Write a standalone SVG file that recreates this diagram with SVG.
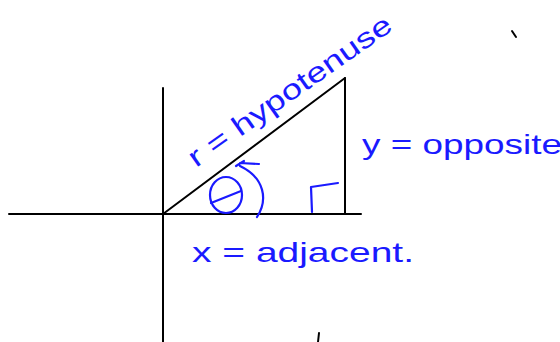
<svg xmlns="http://www.w3.org/2000/svg" width="560" height="342" viewBox="0 0 560 342">
<style>
.ax{stroke:#000;stroke-width:2;fill:none;stroke-linecap:round}
.ink{stroke:#1a1aff;stroke-width:2.2;fill:none;stroke-linecap:round;stroke-linejoin:round}
.lbl{font-family:"Liberation Sans",Arial,sans-serif;font-size:28px;fill:#1a1aff}
</style>
<rect width="560" height="342" fill="#fff"/>
<g id="connectors">
<line class="ax" x1="9" y1="214" x2="361" y2="214"/>
<line class="ax" x1="163" y1="88" x2="163" y2="342"/>
<line class="ax" x1="163" y1="214" x2="345" y2="78"/>
<line class="ax" x1="345" y1="78" x2="345" y2="214"/>
<path class="ax" d="M512 31 L516 37"/>
<path class="ax" d="M319 333 L318 342"/>
</g>
<g id="right-angle">
<path class="ink" d="M312 212 L311 187 L338 183"/>
</g>
<g id="theta">
<ellipse class="ink" cx="226" cy="195" rx="16" ry="18"/>
<line class="ink" x1="211" y1="203" x2="241" y2="191"/>
<path class="ink" d="M257 217 C268 200 265 178 240 166 M236 166 L244 161 M240 163 L259 164"/>
</g>
<g id="hypotenuse-label">
<text class="lbl" transform="translate(196,168) rotate(-35)" font-size="34" textLength="242" lengthAdjust="spacingAndGlyphs">r = hypotenuse</text>
</g>
<g id="opposite-label">
<text class="lbl" x="362" y="154" textLength="200" lengthAdjust="spacingAndGlyphs">y = opposite</text>
</g>
<g id="adjacent-label">
<text class="lbl" x="192" y="262" textLength="222" lengthAdjust="spacingAndGlyphs">x = adjacent.</text>
</g>
</svg>
